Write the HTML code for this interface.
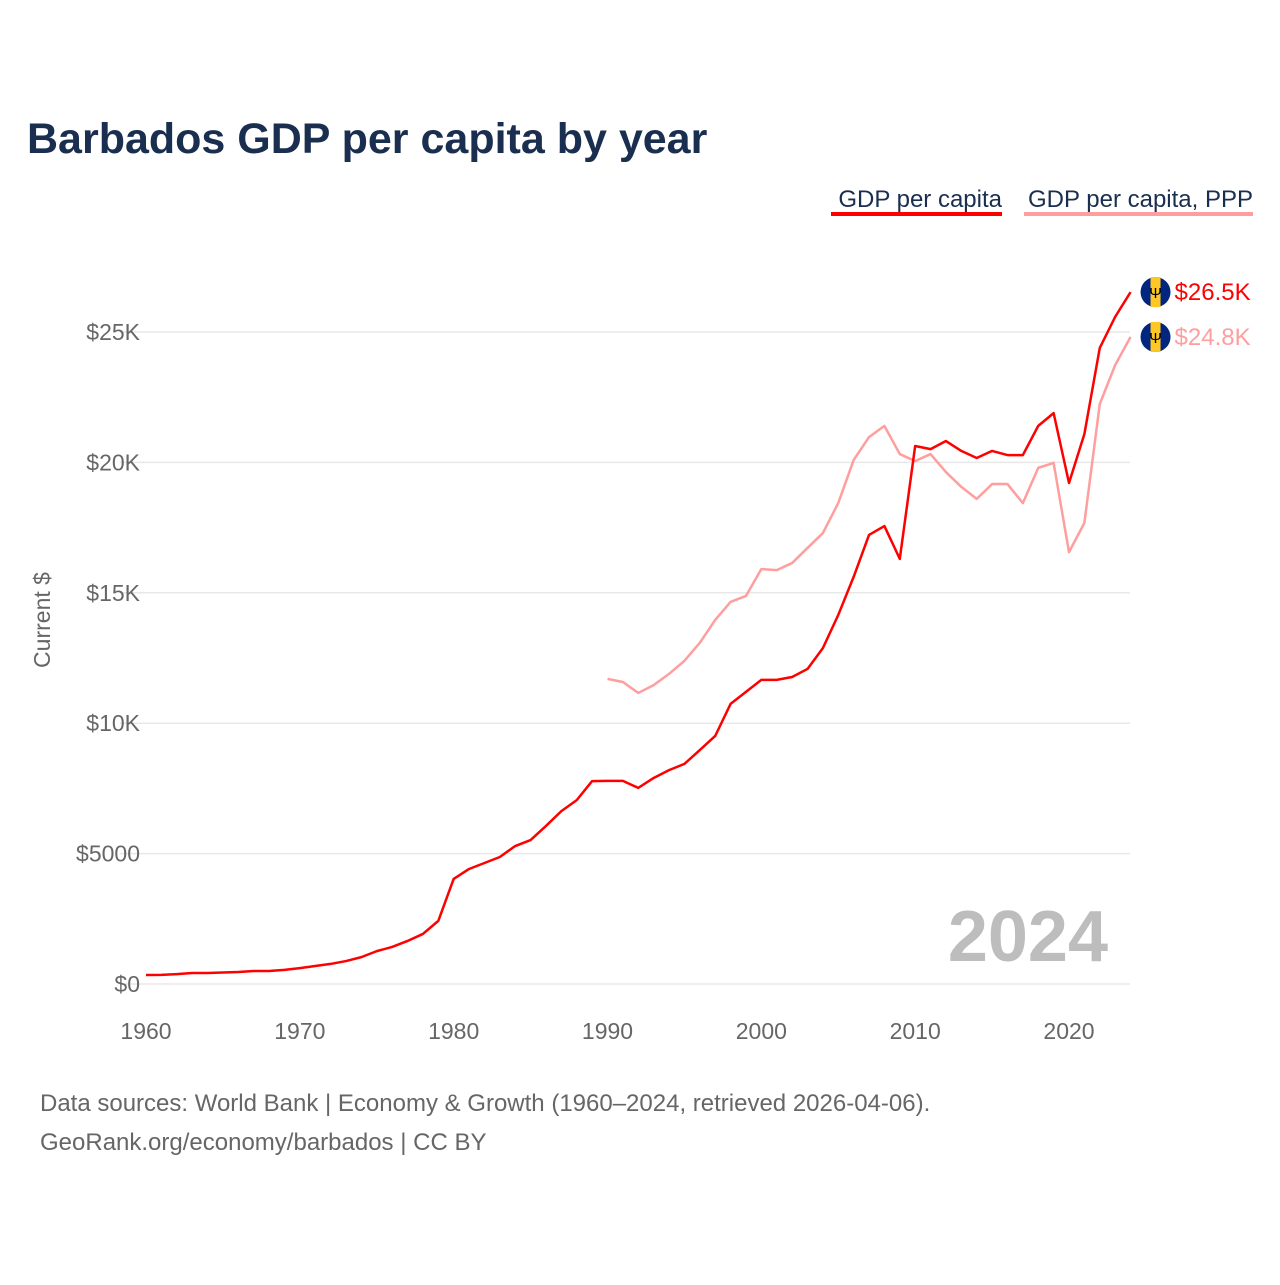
<!DOCTYPE html>
<html><head><meta charset="utf-8"><style>
body{margin:0;background:#fff;font-family:"Liberation Sans",sans-serif;}
svg text{font-family:"Liberation Sans",sans-serif;}
</style></head><body>
<svg id="chart" width="1280" height="1280" xmlns="http://www.w3.org/2000/svg">
<text x="27" y="153" font-size="43" font-weight="bold" fill="#1a2e4f">Barbados GDP per capita by year</text>
<g>
<text x="1002" y="207" font-size="24" fill="#1a2e4f" text-anchor="end">GDP per capita</text>
<rect x="831" y="212" width="171" height="4" fill="#ff0000"/>
<text x="1253" y="207" font-size="24" fill="#1a2e4f" text-anchor="end">GDP per capita, PPP</text>
<rect x="1024" y="212" width="229" height="4" fill="#ff9e9e"/>
</g>
<g id="grid"></g><g id="xt"></g><g id="lines"></g>
<text transform="translate(50,620) rotate(-90)" font-size="23" fill="#666" text-anchor="middle">Current $</text>
<text x="1108" y="961" font-size="72" font-weight="bold" fill="#bdbdbd" text-anchor="end">2024</text>
<text x="40" y="1111" font-size="24" fill="#666">Data sources: World Bank | Economy &amp; Growth (1960–2024, retrieved 2026-04-06).</text>
<text x="40" y="1150" font-size="24" fill="#666">GeoRank.org/economy/barbados | CC BY</text>
</svg>
<script>
const years=[];for(let y=1960;y<=2024;y++)years.push(y);
const gdp=[345,350,380,420,420,440,460,500,500,540,610,690,770,880,1030,1260,1420,1650,1920,2420,4030,4410,4640,4870,5290,5520,6060,6630,7050,7780,7790,7790,7520,7900,8200,8440,8970,9510,10740,11200,11660,11660,11770,12080,12880,14150,15610,17220,17560,16300,20630,20510,20820,20440,20170,20440,20280,20280,21400,21890,19210,21090,24390,25580,26530];
const pppYears=[];for(let y=1990;y<=2024;y++)pppYears.push(y);
const ppp=[11700,11580,11160,11460,11890,12390,13080,13960,14650,14880,15910,15870,16140,16720,17290,18440,20090,20970,21400,20320,20050,20320,19630,19060,18600,19170,19170,18440,19790,19980,16560,17680,22240,23730,24810];
const yTicks=[0,5000,10000,15000,20000,25000];
const yLabels=["$0","$5000","$10K","$15K","$20K","$25K"];
const xTicks=[1960,1970,1980,1990,2000,2010,2020];
const NS="http://www.w3.org/2000/svg";
const X=y=>146+(y-1960)*(1069-146)/60;
const Y=v=>984-v*652/25000;
function mk(t,a,p){const e=document.createElementNS(NS,t);for(const k in a)e.setAttribute(k,a[k]);p.appendChild(e);return e;}
const g=document.getElementById('grid');
yTicks.forEach((v,i)=>{
 const l=mk('line',{x1:120,x2:1130,y1:Y(v),y2:Y(v),stroke:'#e8e8e8','stroke-width':1.5},g);
 
 
 const t=mk('text',{x:140,y:Y(v)+8,'font-size':23,fill:'#666','text-anchor':'end'},g);
 t.textContent=yLabels[i];
 
 
});
const xt=document.getElementById('xt');
xTicks.forEach(v=>{
 const t=mk('text',{x:X(v),y:1039,'font-size':23,fill:'#666','text-anchor':'middle'},xt);
 t.textContent=v;
 
 
});
const L=document.getElementById('lines');
function line(xs,vs,col,name,label,dy){
 const p=mk('polyline',{points:xs.map((x,i)=>X(x)+','+Y(vs[i])).join(' '),fill:'none',stroke:col,'stroke-width':2.5,'stroke-linejoin':'round'},L);
 
 
 const lx=X(xs[xs.length-1]),ly=Y(vs[vs.length-1]);
 const f=mk('g',{},L);
 
 
 mk('circle',{cx:lx+25,cy:ly,r:15,fill:'#00267f'},f);
 mk('rect',{x:lx+20,y:ly-15,width:10,height:30,fill:'#ffc726'},f);
 const tr=mk('text',{x:lx+25,y:ly+6,'font-size':15,'text-anchor':'middle',fill:'#000'},f);tr.textContent='Ψ';
 const t=mk('text',{x:lx+44,y:ly+8,'font-size':24,fill:col},L);
 t.textContent=label;
 
 
}
line(pppYears,ppp,'#ff9e9e','ppp-line','$24.8K');
line(years,gdp,'#ff0000','gdp-line','$26.5K');
</script>
</body></html>
